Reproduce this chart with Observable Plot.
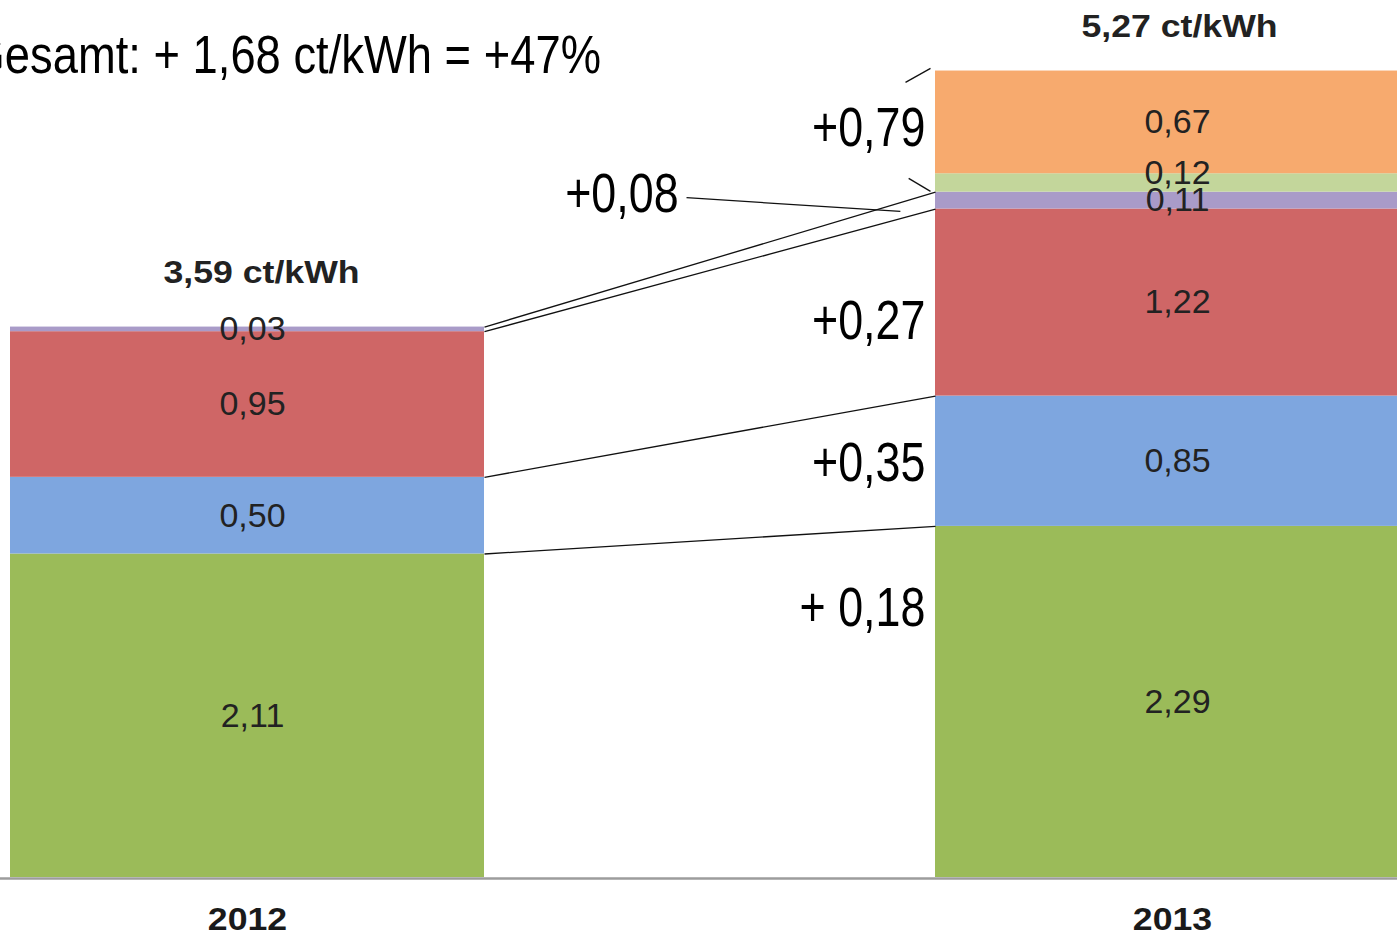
<!DOCTYPE html>
<html>
<head>
<meta charset="utf-8">
<script src="https://cdn.jsdelivr.net/npm/d3@7"></script>
<script src="https://cdn.jsdelivr.net/npm/@observablehq/plot@0.6"></script>
<style>
  html, body { margin: 0; padding: 0; background: white; overflow: hidden; }
  #chart svg { display: block; }
</style>
</head>
<body>
<div id="chart"></div>
<script>
// ---- data ----
const years = ["2012", "2013"];
// stack order, bottom to top (the source shows no legend, so the parts are named by colour)
const components = ["Grün", "Blau", "Rot", "Violett", "Hellgrün", "Orange"];
const values2012 = [2.11, 0.50, 0.95, 0.03, 0, 0];
const values2013 = [2.29, 0.85, 1.22, 0.11, 0.12, 0.67];
const totals = [3.59, 5.27];
const totalLabels = ["3,59 ct/kWh", "5,27 ct/kWh"];
const deltaLabels = ["+0,79", "+0,08", "+0,27", "+0,35", "+ 0,18"];
const deltaAnchorY = [4.89, 4.46, 3.63, 2.70, 1.76]; // value level each change label sits at
const headline = "Gesamt: + 1,68 ct/kWh = +47%";
const colors = ["#9BBB59", "#7EA6DF", "#CF6666", "#A99BC8", "#C3D69B", "#F7AA6E"];

// ---- build table ----
const series = [values2012, values2013];
const fmt = v => d3.format(".2f")(v).replace(".", ",");
const rows = [];
series.forEach((vals, i) => {
  let acc = 0;
  vals.forEach((v, j) => {
    const y1 = acc, y2 = acc + v;
    acc = y2;
    rows.push({i, year: years[i], component: components[j], value: v, y1, y2, label: fmt(v)});
  });
});
const seg = (i, name) => rows.find(r => r.i === i && r.component === name);

const hw = 237 / 925;          // half bar width in band units
const L = 1 - hw, R0 = 0 + hw; // inner bar edges

// connectors between the two bars
const connectors = [
  {x1: R0, y1: seg(0, "Grün").y2,    x2: L, y2: seg(1, "Grün").y2},
  {x1: R0, y1: seg(0, "Blau").y2,    x2: L, y2: seg(1, "Blau").y2},
  {x1: R0, y1: seg(0, "Rot").y2,     x2: L, y2: seg(1, "Rot").y2},
  {x1: R0, y1: seg(0, "Violett").y2, x2: L, y2: seg(1, "Violett").y2},
  // bracket for +0,79
  {x1: L - 0.0324, y1: seg(1, "Orange").y2 - 0.074, x2: L - 0.0054, y2: seg(1, "Orange").y2 + 0.017},
  {x1: L - 0.029, y1: seg(1, "Violett").y2 + 0.09, x2: L - 0.0054, y2: seg(1, "Violett").y2 + 0.005},
  // pointer from +0,08
  {x1: 0.4746, y1: deltaAnchorY[1] - 0.026, x2: L - 0.038, y2: seg(1, "Rot").y2 - 0.016}
];

const deltas = deltaLabels.map((t, k) => ({
  text: t, y: deltaAnchorY[k], x: k === 1 ? 0.466 : L - 0.011
}));

const labelRows = rows.filter(r => r.value > 0);

const totalsData = totals.map((t, i) => ({i, t, label: totalLabels[i]}));

const font = "'Liberation Sans', Arial, sans-serif";

const chart = Plot.plot({
  width: 1397,
  height: 939,
  marginTop: 69,
  marginBottom: 62,
  marginLeft: 0,
  marginRight: 0,
  x: {type: "linear", domain: [-247 / 925, 1150 / 925], axis: null},
  y: {domain: [0, 5.27], axis: null},
  color: {domain: components, range: colors},
  style: {fontFamily: font, background: "white", overflow: "visible"},
  marks: [
    Plot.rectY(labelRows, {x1: d => d.i - hw, x2: d => d.i + hw, y1: "y1", y2: "y2", fill: "component"}),
    Plot.ruleY([0], {stroke: "#9c9c9c", strokeWidth: 2.5, dy: 1}),
    Plot.link(connectors, {x1: "x1", y1: "y1", x2: "x2", y2: "y2", stroke: "#111", strokeWidth: 1.3}),
    // segment values
    Plot.text(labelRows.filter(r => r.label !== "0,12"), {
      x: "i", y: d => (d.y1 + d.y2) / 2, text: "label",
      fontSize: 34, fill: "#222", dx: 5
    }),
    Plot.text(labelRows.filter(r => r.label === "0,12"), {
      x: "i", y: d => (d.y1 + d.y2) / 2, text: "label",
      fontSize: 34, fill: "#222", dy: -10, dx: 5
    }),
    // totals
    Plot.text(totalsData.filter(d => d.i === 0), {
      x: "i", y: "t", text: "label", fontSize: 31, fontWeight: "bold", fill: "#222", dy: -54, dx: 14,
      ariaDescription: "wide-text"
    }),
    Plot.text(totalsData.filter(d => d.i === 1), {
      x: "i", y: "t", text: "label", fontSize: 31, fontWeight: "bold", fill: "#222", dy: -42, dx: 7,
      ariaDescription: "wide-text"
    }),
    // year labels
    Plot.text(years.map((y, i) => ({i, y})), {
      x: "i", text: "y", frameAnchor: "bottom", lineAnchor: "middle", dy: 43,
      fontSize: 31, fontWeight: "bold", fill: "#1a1a1a", ariaDescription: "wide-text"
    }),
    // change labels
    Plot.text(deltas, {
      x: "x", y: "y", text: "text", textAnchor: "end",
      fontSize: 56, fill: "#000", ariaDescription: "narrow-text"
    }),
    // headline
    Plot.text([headline], {
      frameAnchor: "top-left", lineAnchor: "middle", dx: -31, dy: -14, textAnchor: "start",
      fontSize: 54, fill: "#000", ariaDescription: "headline-text"
    })
  ]
});

const squish = (desc, k) => {
  d3.select(chart).selectAll(`g[aria-description="${desc}"] text`).each(function () {
    const t = this.getAttribute("transform") || "";
    this.setAttribute("transform", t + ` scale(${k},1)`);
  });
};
squish("wide-text", 1.15);
squish("narrow-text", 0.8);
squish("headline-text", 0.84);

document.getElementById("chart").appendChild(chart);
</script>
</body>
</html>
